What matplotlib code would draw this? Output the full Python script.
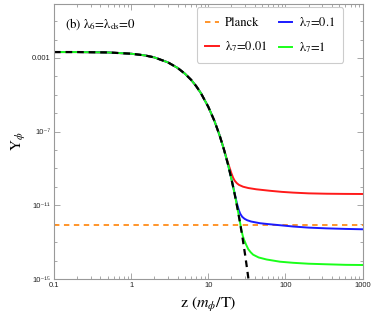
import matplotlib
matplotlib.use("Agg")
import matplotlib.pyplot as plt
import numpy as np
from matplotlib.ticker import FixedLocator, NullFormatter

plt.rcParams['mathtext.fontset'] = 'stix'

# equilibrium curve (black dashed), values read/ (log10 Y)
z_eq = [0.1, 0.2, 0.5, 1.0, 1.5, 2.0, 3.0, 4.0, 5.0, 6.0, 7.0, 8.0, 10.0, 12.0, 14.0, 16.0,
        18.0, 20.0, 22.0, 24.0, 26.0, 28.0, 30.0, 32.0, 34.0, 35.0]
logY_eq = [-2.68, -2.68, -2.70, -2.77, -2.86, -2.97, -3.24, -3.54, -3.86, -4.19, -4.54, -4.90,
           -5.65, -6.41, -7.19, -7.98, -8.77, -9.58, -10.39, -11.20, -12.02, -12.84, -13.67,
           -14.50, -15.33, -15.75]

# lambda7 = 0.01 (red)
z_r = [0.1, 0.2, 0.5, 1.0, 1.5, 2.0, 3.0, 4.0, 5.0, 6.0, 7.0, 8.0, 10.0, 12.0, 14.0, 15.0,
       16.0, 17.0, 18.0, 19.0, 20.0, 21.0, 22.0, 23.5, 25.0, 28.3, 33.0, 42.0, 63.0, 90.0,
       126.0, 200.0, 340.0, 600.0, 1000.0]
logY_r = [-2.68, -2.68, -2.70, -2.77, -2.86, -2.97, -3.24, -3.54, -3.86, -4.19, -4.54, -4.90,
          -5.65, -6.41, -7.19, -7.58, -7.97, -8.35, -8.69, -8.99, -9.27, -9.50, -9.66, -9.80,
          -9.89, -9.99, -10.06, -10.13, -10.21, -10.27, -10.31, -10.35, -10.37, -10.38, -10.385]

# lambda7 = 0.1 (blue)
z_b = [0.1, 0.2, 0.5, 1.0, 1.5, 2.0, 3.0, 4.0, 5.0, 6.0, 7.0, 8.0, 10.0, 12.0, 14.0, 16.0,
       18.0, 20.0, 21.0, 22.0, 23.0, 24.0, 25.0, 26.0, 27.5, 29.5, 32.0, 36.0, 46.6, 60.0,
       85.0, 126.0, 200.0, 340.0, 600.0, 1000.0]
logY_b = [-2.68, -2.68, -2.70, -2.77, -2.86, -2.97, -3.24, -3.54, -3.86, -4.19, -4.54, -4.90,
          -5.65, -6.41, -7.19, -7.98, -8.77, -9.58, -9.98, -10.36, -10.72, -11.03, -11.28,
          -11.46, -11.62, -11.73, -11.81, -11.88, -11.97, -12.02, -12.08, -12.15, -12.21,
          -12.25, -12.28, -12.30]

# lambda7 = 1 (green)
z_g = [0.1, 0.2, 0.5, 1.0, 1.5, 2.0, 3.0, 4.0, 5.0, 6.0, 7.0, 8.0, 10.0, 12.0, 14.0, 16.0,
       18.0, 20.0, 22.0, 24.0, 25.0, 26.0, 27.0, 28.0, 29.0, 30.0, 31.0, 33.0, 35.5, 38.2,
       45.0, 57.0, 85.0, 126.0, 200.0, 340.0, 600.0, 1000.0]
logY_g = [-2.68, -2.68, -2.70, -2.77, -2.86, -2.97, -3.24, -3.54, -3.86, -4.19, -4.54, -4.90,
          -5.65, -6.41, -7.19, -7.98, -8.77, -9.58, -10.39, -11.20, -11.60, -12.00, -12.37,
          -12.65, -12.85, -13.00, -13.14, -13.38, -13.55, -13.68, -13.83, -13.94, -14.06,
          -14.12, -14.17, -14.20, -14.23, -14.24]

planck_Y = 8.5e-13

xticks = [0.1, 1, 10, 100, 1000]
xticklabels = ['0.1', '1', '10', '100', '1000']
yticks = [1e-3, 1e-7, 1e-11, 1e-15]
yticklabels = ['0.001', '10⁻⁷', '10⁻¹¹', '10⁻¹⁵']

fig = plt.figure(figsize=(3.74, 3.22), dpi=100)
ax = fig.add_axes([0.1444, 0.1335, 0.8249, 0.8541])

ax.set_xscale('log')
ax.set_yscale('log')

l_pl, = ax.plot([0.1, 1000], [planck_Y, planck_Y], color='#ff8c1a', lw=1.3,
                ls=(0, (3, 2.5)), label='Planck')
l_r, = ax.plot(z_r, 10**np.array(logY_r), color='#ff1a1a', lw=1.4, label='λ$_7$=0.01')
l_b, = ax.plot(z_b, 10**np.array(logY_b), color='#1a1aff', lw=1.4, label='λ$_7$=0.1')
l_g, = ax.plot(z_g, 10**np.array(logY_g), color='#1aff1a', lw=1.4, label='λ$_7$=1')
ax.plot(z_eq, 10**np.array(logY_eq), color='black', lw=1.6, ls=(0, (3, 2.2)))

ax.set_xlim(0.1, 1000)
ax.set_ylim(1e-15, 0.85)

grey = '#999999'
for s in ax.spines.values():
    s.set_color(grey)
    s.set_linewidth(0.8)

ax.xaxis.set_major_locator(FixedLocator(xticks))
ax.set_xticklabels(xticklabels)
xminor = [m * 10.0**e for e in range(-1, 3) for m in range(2, 10)]
ax.xaxis.set_minor_locator(FixedLocator(xminor))
ax.xaxis.set_minor_formatter(NullFormatter())

ax.yaxis.set_major_locator(FixedLocator(yticks))
ax.set_yticklabels(yticklabels)
yminor = [10.0**e for e in range(-15, 1) if 10.0**e not in yticks]
ax.yaxis.set_minor_locator(FixedLocator(yminor))
ax.yaxis.set_minor_formatter(NullFormatter())

ax.tick_params(which='both', direction='in', top=True, right=True, color=grey,
               labelsize=5.5, labelcolor='#222222', width=0.6)
ax.tick_params(which='major', length=4, pad=2.5)
ax.tick_params(which='minor', length=2)
for lab in ax.get_xticklabels() + ax.get_yticklabels():
    lab.set_family(['Liberation Sans', 'DejaVu Sans'])

ax.set_xlabel('z ($m_\\phi$/T)', family='STIXGeneral', fontsize=11.5, labelpad=4)
ax.set_ylabel('Y$_\\phi$', family='STIXGeneral', fontsize=11, labelpad=3)

ax.text(0.035, 0.925, '(b) λ$_6$=λ$_{\\rm ds}$=0', transform=ax.transAxes,
        family='STIXGeneral', fontsize=9.3, va='center', ha='left')

leg = ax.legend(handles=[l_pl, l_r, l_b, l_g], ncol=2, loc='upper right',
                bbox_to_anchor=(0.937, 0.989), prop={'family': 'STIXGeneral', 'size': 9},
                frameon=True, fancybox=True, handlelength=1.1, handletextpad=0.5,
                columnspacing=0.9, borderpad=0.65, labelspacing=0.8, borderaxespad=0.0)
leg.get_frame().set_edgecolor('#cccccc')
leg.get_frame().set_linewidth(0.8)
leg.get_frame().set_alpha(1)

fig.savefig('out.png', dpi=100)
